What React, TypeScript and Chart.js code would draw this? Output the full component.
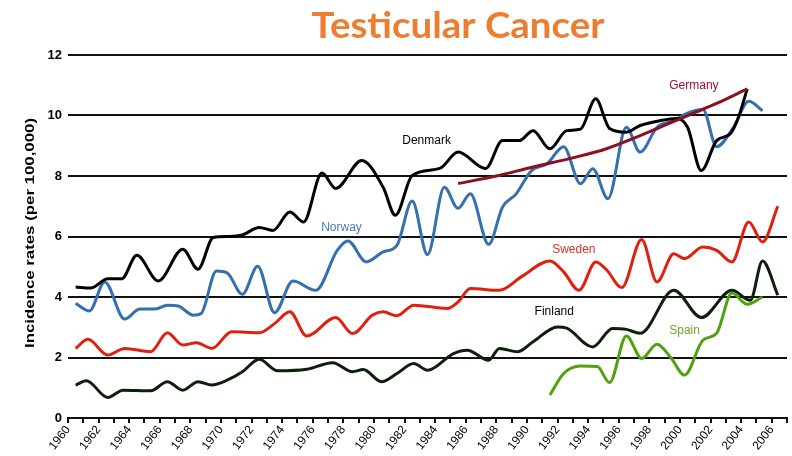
import React, { useEffect, useRef } from "react";
import { Chart, registerables } from "chart.js";

Chart.register(...registerables);

const chartTitle = "Testicular Cancer";
const yAxisTitle = "Incidence rates (per 100,000)";
const xMin = 1960;
const xMax = 2007;
const yMin = 0;
const yMax = 12;
const yStep = 2;

const denmarkYears = [1960.5, 1961.5, 1962.6, 1963.5, 1964.5, 1965.9, 1967.5, 1968.5, 1969.5, 1970.5, 1971.4, 1972.5, 1973.4, 1974.5, 1975.4, 1976.6, 1977.5, 1979.2, 1980.6, 1981.4, 1982.5, 1984.3, 1985.5, 1987.3, 1988.4, 1989.5, 1990.4, 1991.5, 1992.6, 1993.5, 1994.5, 1995.4, 1996.5, 1997.4, 1998.7, 1999.8, 2000.5, 2001.4, 2002.4, 2003.3, 2003.8, 2004.4];
const denmarkRates = [4.33, 4.3, 4.6, 4.6, 5.38, 4.53, 5.58, 4.92, 5.97, 6.0, 6.05, 6.3, 6.2, 6.81, 6.48, 8.1, 7.59, 8.51, 7.63, 6.7, 8.02, 8.25, 8.79, 8.25, 9.17, 9.17, 9.5, 8.9, 9.5, 9.55, 10.55, 9.57, 9.45, 9.67, 9.83, 9.9, 9.61, 8.18, 9.17, 9.4, 9.9, 10.88];

const norwayYears = [1960.5, 1961.4, 1962.4, 1963.7, 1964.7, 1965.7, 1966.5, 1967.2, 1968.2, 1968.7, 1969.7, 1970.4, 1971.4, 1972.4, 1973.5, 1974.7, 1976.2, 1977.6, 1978.3, 1979.5, 1980.6, 1981.5, 1982.5, 1983.5, 1984.6, 1985.5, 1986.3, 1987.5, 1988.4, 1989.3, 1990.3, 1991.3, 1992.4, 1993.5, 1994.3, 1995.3, 1996.5, 1997.4, 1998.5, 1999.6, 2000.6, 2001.5, 2002.4, 2003.5, 2004.5, 2005.4];
const norwayRates = [3.79, 3.54, 4.5, 3.27, 3.6, 3.6, 3.73, 3.7, 3.4, 3.45, 4.86, 4.8, 4.09, 5.02, 3.48, 4.53, 4.22, 5.54, 5.85, 5.16, 5.49, 5.71, 7.17, 5.4, 7.63, 6.93, 7.41, 5.74, 6.97, 7.41, 8.18, 8.4, 8.97, 7.74, 8.24, 7.25, 9.61, 8.79, 9.61, 9.83, 10.1, 10.2, 8.97, 9.61, 10.47, 10.16];

const germanyYears = [1985.5, 1988, 1990.4, 1993, 1995.2, 1997, 1999.1, 2001, 2002.4, 2004.4];
const germanyRates = [7.75, 8.0, 8.3, 8.6, 8.9, 9.25, 9.7, 10.1, 10.4, 10.88];

const swedenYears = [1960.5, 1961.3, 1962.6, 1963.7, 1965.4, 1966.5, 1967.5, 1968.4, 1969.4, 1970.7, 1972.5, 1973.5, 1974.5, 1975.6, 1977.5, 1978.6, 1979.9, 1980.6, 1981.5, 1982.6, 1984.8, 1985.5, 1986.3, 1988.2, 1989.7, 1991.5, 1992.4, 1993.4, 1994.5, 1995.2, 1996.2, 1997.5, 1998.5, 1999.6, 2000.3, 2001.5, 2002.4, 2003.4, 2004.5, 2005.4, 2006.4];
const swedenRates = [2.3, 2.6, 2.08, 2.3, 2.19, 2.82, 2.41, 2.49, 2.3, 2.85, 2.82, 3.12, 3.51, 2.71, 3.32, 2.79, 3.4, 3.51, 3.38, 3.73, 3.62, 3.84, 4.28, 4.22, 4.69, 5.19, 4.83, 4.22, 5.16, 4.9, 4.31, 5.9, 4.5, 5.43, 5.27, 5.65, 5.54, 5.16, 6.48, 5.82, 7.0];

const finlandYears = [1960.5, 1961.2, 1962.6, 1963.6, 1965.4, 1966.5, 1967.5, 1968.5, 1969.4, 1970.4, 1971.4, 1972.5, 1973.7, 1975.6, 1977.3, 1978.6, 1979.3, 1980.5, 1981.5, 1982.6, 1983.5, 1985.2, 1986.1, 1987.5, 1988.2, 1989.4, 1990.4, 1992, 1992.6, 1994.3, 1995.6, 1996.5, 1997.4, 1999.6, 2001.4, 2003.4, 2004.6, 2005.4, 2006.4];
const finlandRates = [1.09, 1.23, 0.68, 0.92, 0.9, 1.2, 0.92, 1.2, 1.09, 1.25, 1.53, 1.94, 1.56, 1.61, 1.83, 1.53, 1.6, 1.2, 1.47, 1.8, 1.58, 2.13, 2.24, 1.91, 2.3, 2.19, 2.52, 3.01, 2.97, 2.35, 2.96, 2.93, 2.8, 4.22, 3.32, 4.22, 3.89, 5.19, 4.06];

const spainYears = [1991.5, 1992.4, 1993.5, 1994.6, 1995.4, 1996.5, 1997.5, 1998.5, 1999.4, 2000.3, 2001.5, 2002.4, 2003.4, 2004.4, 2005.4];
const spainRates = [0.76, 1.47, 1.72, 1.7, 1.17, 2.71, 1.97, 2.44, 2.0, 1.42, 2.57, 2.8, 4.13, 3.76, 4.0];

// Series labels: name, anchor year (left edge), anchor value (vertical centre), colour
const labelNames = ["Denmark", "Norway", "Germany", "Sweden", "Finland", "Spain"];
const labelYears = [1981.85, 1976.55, 1999.3, 1991.65, 1990.5, 1999.3];
const labelValues = [9.17, 6.3, 11.0, 5.58, 3.5, 2.9];
const labelColors = ["#000000", "#4a7db5", "#a3102c", "#d9331f", "#000000", "#6aaa1e"];

const FONT = "'Liberation Sans', Arial, sans-serif";

function toPoints(xs: number[], ys: number[]) {
  return xs.map((x, i) => ({ x, y: ys[i] }));
}

const textPlugin = {
  id: "customText",
  afterDraw(chart: any) {
    const ctx = chart.ctx;
    const xs = chart.scales.x;
    const ys = chart.scales.y;
    ctx.save();
    // title
    ctx.fillStyle = "#ED7D31";
    ctx.font = "bold 34px Lato, 'Open Sans', sans-serif";
    ctx.textAlign = "center";
    ctx.textBaseline = "alphabetic";
    const tw = ctx.measureText(chartTitle).width;
    ctx.save();
    ctx.translate(458, 38);
    ctx.scale(293 / tw, 1.08);
    ctx.fillText(chartTitle, 0, 0);
    ctx.restore();
    // y-axis title
    ctx.save();
    ctx.translate(30, 233);
    ctx.rotate(-Math.PI / 2);
    ctx.fillStyle = "#000";
    ctx.font = `bold 13px ${FONT}`;
    ctx.textAlign = "center";
    ctx.textBaseline = "middle";
    const yw = ctx.measureText(yAxisTitle).width;
    ctx.scale(230 / yw, 1);
    ctx.fillText(yAxisTitle, 0, 0);
    ctx.restore();
    // series labels
    ctx.font = `12px ${FONT}`;
    ctx.textAlign = "left";
    ctx.textBaseline = "middle";
    labelNames.forEach((name, i) => {
      ctx.fillStyle = labelColors[i];
      ctx.fillText(name, xs.getPixelForValue(labelYears[i]), ys.getPixelForValue(labelValues[i]));
    });
    ctx.restore();
  },
};

export default function App() {
  const ref = useRef<HTMLCanvasElement | null>(null);
  useEffect(() => {
    if (!ref.current) return;
    const common = { pointRadius: 0, borderWidth: 3, cubicInterpolationMode: "monotone" as const, fill: false };
    const chart = new Chart(ref.current, {
      type: "line",
      data: {
        datasets: [
          { label: "Germany", data: toPoints(germanyYears, germanyRates), borderColor: "#8c1020", ...common },
          { label: "Spain", data: toPoints(spainYears, spainRates), borderColor: "#52a010", ...common },
          { label: "Denmark", data: toPoints(denmarkYears, denmarkRates), borderColor: "#000000", ...common },
          { label: "Norway", data: toPoints(norwayYears, norwayRates), borderColor: "#3370b0", ...common },
          { label: "Sweden", data: toPoints(swedenYears, swedenRates), borderColor: "#e0200f", ...common },
          { label: "Finland", data: toPoints(finlandYears, finlandRates), borderColor: "#0c1f0c", ...common },
        ],
      },
      options: {
        animation: false,
        responsive: false,
        devicePixelRatio: 1,
        layout: { padding: { left: 0, right: 5, top: 55, bottom: 0 } },
        plugins: { legend: { display: false }, tooltip: { enabled: false }, title: { display: false } },
        scales: {
          x: {
            type: "linear",
            min: xMin,
            max: xMax,
            afterFit: (s: any) => { s.height = 38; s.paddingRight = 0; },
            ticks: {
              stepSize: 1,
              autoSkip: false,
              maxRotation: 52,
              minRotation: 52,
              padding: 0,
              color: "#000",
              font: { family: FONT, size: 12 },
              callback: (v: any) => (Number(v) % 2 === 0 ? String(v) : ""),
            },
            grid: { drawOnChartArea: false, drawTicks: true, tickLength: 5, color: "#111", lineWidth: 2 },
            border: { display: true, color: "#111", width: 2 },
          },
          y: {
            type: "linear",
            min: yMin,
            max: yMax,
            afterFit: (s: any) => { s.width = 68; },
            ticks: { stepSize: yStep, padding: 6, color: "#000", font: { family: FONT, size: 13, weight: "bold" } },
            grid: { drawTicks: false, color: "#111", lineWidth: 2 },
            border: { display: false },
          },
        },
      },
      plugins: [textPlugin],
    });
    return () => chart.destroy();
  }, []);
  return (
    <div style={{ position: "fixed", left: 0, top: 0, width: 792, height: 456, background: "#fff" }}>
      <canvas ref={ref} width={792} height={456} />
    </div>
  );
}
